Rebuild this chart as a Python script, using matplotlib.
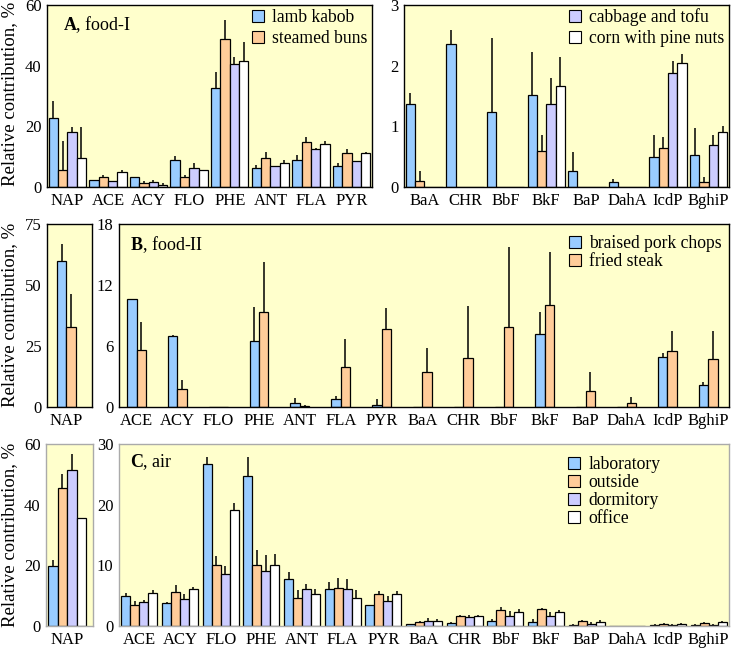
import numpy as np
import matplotlib
matplotlib.use('Agg')
import matplotlib.pyplot as plt
from matplotlib.patches import Patch

plt.rcParams['font.family'] = ['Liberation Serif', 'DejaVu Serif']
plt.rcParams['font.size'] = 12
plt.rcParams['mathtext.fontset'] = 'custom'
plt.rcParams['mathtext.rm'] = 'Liberation Serif'
plt.rcParams['mathtext.bf'] = 'Liberation Serif:bold'

# ---------------- data ----------------
light_pahs = ['NAP', 'ACE', 'ACY', 'FLO', 'PHE', 'ANT', 'FLA', 'PYR']
heavy_pahs = ['BaA', 'CHR', 'BbF', 'BkF', 'BaP', 'DahA', 'IcdP', 'BghiP']
pahs_no_nap = light_pahs[1:] + heavy_pahs

# A, food-I  (lamb kabob, steamed buns, cabbage and tofu, corn with pine nuts)
food1_names = ['lamb kabob', 'steamed buns', 'cabbage and tofu', 'corn with pine nuts']
food1_light = [[22.7, 2.3, 3.4, 9.0, 32.5, 6.1, 9.0, 6.8],
               [5.7, 3.4, 1.4, 3.4, 48.8, 9.5, 14.7, 11.3],
               [18.1, 1.9, 1.8, 6.1, 40.5, 6.8, 12.4, 8.5],
               [9.7, 5.1, 0.7, 5.7, 41.6, 7.9, 14.1, 11.3]]
food1_light_err = [[5.7, 0.0, 0.0, 1.3, 5.3, 1.3, 1.7, 1.1],
                   [9.6, 0.7, 0.5, 0.5, 6.4, 1.9, 1.7, 1.2],
                   [1.7, 0.2, 0.4, 1.9, 2.2, 0.0, 0.6, 0.0],
                   [10.1, 0.5, 0.5, 0.0, 6.3, 1.0, 1.1, 0.4]]
food1_heavy = [[1.37, 2.36, 1.23, 1.52, 0.27, 0.08, 0.50, 0.53],
               [0.10, 0.0, 0.0, 0.59, 0.0, 0.0, 0.64, 0.08],
               [0.0, 0.0, 0.0, 1.37, 0.0, 0.0, 1.88, 0.70],
               [0.0, 0.0, 0.0, 1.66, 0.0, 0.0, 2.05, 0.90]]
food1_heavy_err = [[0.18, 0.23, 1.22, 0.71, 0.30, 0.06, 0.35, 0.45],
                   [0.16, 0.0, 0.0, 0.26, 0.0, 0.0, 0.18, 0.09],
                   [0.0, 0.0, 0.0, 0.43, 0.0, 0.0, 0.20, 0.15],
                   [0.0, 0.0, 0.0, 0.48, 0.0, 0.0, 0.15, 0.11]]

# B, food-II  (braised pork chops, fried steak)
food2_names = ['braised pork chops', 'fried steak']
food2_nap = [59.7, 32.6]
food2_nap_err = [7.1, 13.8]
food2_rest = [[10.64, 7.0, 0.0, 6.5, 0.43, 0.76, 0.23, 0.0, 0.0, 0.0, 7.16, 0.0, 0.0, 4.96, 2.14],
              [5.65, 1.81, 0.0, 9.33, 0.10, 3.98, 7.69, 3.45, 4.83, 7.85, 10.02, 1.61, 0.43, 5.52, 4.70]]
food2_rest_err = [[0.0, 0.13, 0.0, 3.36, 0.49, 0.36, 0.53, 0.0, 0.0, 0.0, 2.2, 0.0, 0.0, 0.36, 0.32],
                  [2.73, 0.82, 0.0, 4.93, 0.13, 2.69, 2.0, 2.4, 5.09, 7.92, 5.22, 1.87, 0.52, 2.0, 2.82]]

# C, air  (laboratory, outside, dormitory, office)
air_names = ['laboratory', 'outside', 'dormitory', 'office']
air_nap = [19.7, 45.6, 51.4, 35.7]
air_nap_err = [2.0, 4.4, 5.2, 0.0]
air_rest = [[4.99, 3.73, 26.66, 24.68, 7.68, 6.09, 3.46, 0.33, 0.55, 0.88, 0.71, 0.16, 0.05, 0.16, 0.16],
            [3.40, 5.54, 9.98, 9.98, 4.66, 6.25, 5.21, 0.71, 1.59, 2.63, 2.74, 0.82, 0.05, 0.38, 0.55],
            [3.90, 4.50, 8.56, 9.11, 6.09, 6.09, 4.06, 0.88, 1.43, 1.59, 1.59, 0.38, 0.05, 0.16, 0.22],
            [5.38, 6.09, 19.14, 9.98, 5.21, 4.66, 5.21, 0.88, 1.65, 2.30, 2.30, 0.71, 0.05, 0.38, 0.60]]
air_rest_err = [[0.39, 0.22, 1.26, 3.24, 1.26, 1.10, 0.0, 0.0, 0.10, 0.27, 0.50, 0.10, 0.0, 0.10, 0.10],
                [0.71, 1.21, 1.48, 2.53, 1.26, 1.59, 0.60, 0.10, 0.17, 0.44, 0.22, 0.10, 0.0, 0.10, 0.10],
                [0.38, 0.71, 1.26, 2.52, 0.88, 1.64, 0.82, 0.44, 0.33, 0.88, 0.66, 0.22, 0.0, 0.10, 0.10],
                [0.54, 0.33, 1.10, 1.81, 0.88, 1.26, 0.55, 0.33, 0.10, 0.55, 0.39, 0.33, 0.0, 0.10, 0.17]]

colors = ['#99ccff', '#ffcc99', '#ccccff', '#ffffff']
bg = '#ffffcc'

W, H = 734, 652
fig = plt.figure(figsize=(W / 100, H / 100), dpi=100)
LEG_FS = 12.7


def add_ax(x0, y0, x1, y1):
    # pixel box (top-left origin) -> figure axes
    return fig.add_axes([x0 / W, 1 - y1 / H, (x1 - x0) / W, (y1 - y0) / H])


def bars(ax, labels, series, errs, width, xlim, ylim, yticks, spine='black'):
    n = len(series)
    x = np.arange(len(labels))
    for i in range(n):
        off = (i - (n - 1) / 2) * width
        e = np.array(errs[i])
        ax.bar(x + off, series[i], width, color=colors[i], edgecolor='black',
               linewidth=0.9, zorder=2)
        ax.errorbar(x + off, series[i], yerr=[np.zeros_like(e), e], fmt='none',
                    ecolor='black', elinewidth=1.1, capsize=0, zorder=3)
    ax.set_facecolor(bg)
    ax.set_xlim(*xlim)
    ax.set_ylim(*ylim)
    ax.set_yticks(yticks)
    ax.set_xticks(x)
    ax.set_xticklabels(labels)
    ax.tick_params(length=0, labelsize=12, pad=4)
    for s in ax.spines.values():
        s.set_color(spine)
        s.set_linewidth(1.0)


def legend(ax, idx, names, xp, yp, spacing):
    handles = [Patch(facecolor=colors[i], edgecolor='black', linewidth=0.8) for i in idx]
    ax.legend(handles, names, loc='upper left', bbox_to_anchor=(xp / W, 1 - yp / H),
              bbox_transform=fig.transFigure, frameon=False, fontsize=LEG_FS,
              handlelength=0.7, handleheight=0.7, handletextpad=0.45,
              labelspacing=spacing, borderpad=0, borderaxespad=0)


def ylab(ycenter):
    fig.text(10 / W, 1 - ycenter / H, 'Relative contribution, %', rotation=90,
             ha='center', va='center', fontsize=13.5)


# ---- A ----
axA1 = add_ax(47, 5, 372, 187)
bars(axA1, light_pahs, food1_light, food1_light_err, 0.23, (-0.5, 7.5), (0, 60), [0, 20, 40, 60])
legend(axA1, [0, 1], food1_names[:2], 252, 9, 0.25)
fig.text(63 / W, 1 - 25 / H, r'$\mathbf{A}$, food-I', ha='left', va='center', fontsize=13)

axA2 = add_ax(404, 5, 729, 187)
bars(axA2, heavy_pahs, food1_heavy, food1_heavy_err, 0.23, (-0.5, 7.5), (0, 3), [0, 1, 2, 3])
legend(axA2, [2, 3], food1_names[2:], 569, 8, 0.25)
ylab(94)

# ---- B ----
axB1 = add_ax(47, 224, 92, 407)
bars(axB1, ['NAP'], [[v] for v in food2_nap], [[v] for v in food2_nap_err], 0.235,
     (-0.475, 0.63), (0, 75), [0, 25, 50, 75])
axB2 = add_ax(119, 224, 729, 407)
bars(axB2, pahs_no_nap, food2_rest, food2_rest_err, 0.23, (-0.43, 14.51), (0, 18), [0, 6, 12, 18])
legend(axB2, [0, 1], food2_names, 569, 235, 0.06)
fig.text(130 / W, 1 - 245 / H, r'$\mathbf{B}$, food-II', ha='left', va='center', fontsize=13)
ylab(315)

# ---- C ----
axC1 = add_ax(46, 444, 93, 626)
bars(axC1, ['NAP'], [[v] for v in air_nap], [[v] for v in air_nap_err], 0.23,
     (-0.52, 0.635), (0, 60), [0, 20, 40, 60], spine='#aaaaaa')
axC2 = add_ax(119, 444, 729, 626)
bars(axC2, pahs_no_nap, air_rest, air_rest_err, 0.22, (-0.5, 14.5), (0, 30), [0, 10, 20, 30],
     spine='#aaaaaa')
legend(axC2, [0, 1, 2, 3], air_names, 568, 456, 0.06)
fig.text(130 / W, 1 - 462 / H, r'$\mathbf{C}$, air', ha='left', va='center', fontsize=13)
ylab(535)

fig.savefig('out.png', dpi=100)
